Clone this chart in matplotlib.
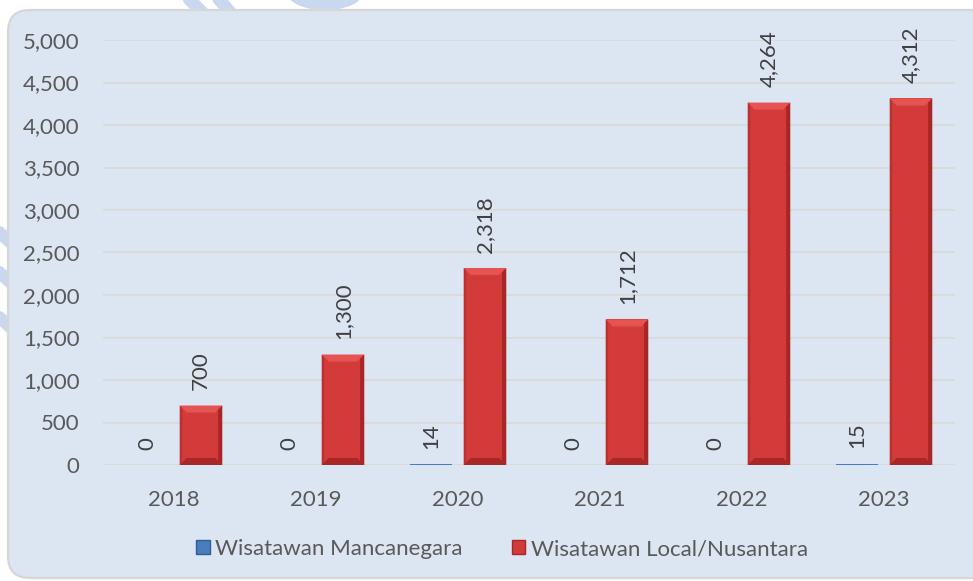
import numpy as np
import matplotlib
matplotlib.use("Agg")
import matplotlib.pyplot as plt
from matplotlib.patches import FancyBboxPatch, Polygon, Patch, Ellipse
from matplotlib.lines import Line2D

years = ['2018', '2019', '2020', '2021', '2022', '2023']
mancanegara = [0, 0, 14, 0, 0, 15]
local_nusantara = [700, 1300, 2318, 1712, 4264, 4312]
series_names = ['Wisatawan Mancanegara', 'Wisatawan Local/Nusantara']
yticks = [0, 500, 1000, 1500, 2000, 2500, 3000, 3500, 4000, 4500, 5000]

plt.rcParams['font.family'] = ['Lato', 'DejaVu Sans']
TXT = '#595959'
FS = 16

W, H = 973, 581
fig = plt.figure(figsize=(W / 100, H / 100), dpi=100)
fig.patch.set_facecolor('white')

# faint watermark strokes behind the panel
wm = '#c9d8ef'
for (x0, y0, x1, y1) in [(185, -5, 230, 40), (215, -5, 255, 40), (-20, 215, 30, 260),
                         (-20, 255, 30, 300), (-20, 300, 30, 345)]:
    fig.add_artist(Line2D([x0 / 100, x1 / 100], [(H - y0) / 100, (H - y1) / 100],
                          transform=fig.dpi_scale_trans, color=wm, lw=9,
                          solid_capstyle='round', zorder=0))
fig.add_artist(Ellipse((325 / 100, (H + 8) / 100), 0.75, 0.35,
                       transform=fig.dpi_scale_trans, color=wm, zorder=0))

# rounded background panel
panel = FancyBboxPatch((8 / 100, 3 / 100), 10.2, (578 - 10) / 100,
                       boxstyle='round,pad=0,rounding_size=0.22',
                       transform=fig.dpi_scale_trans, facecolor='#dce6f2',
                       edgecolor='#d6d6d6', lw=1.6, zorder=1)
fig.add_artist(panel)

ax = fig.add_axes([103 / W, 1 - 465 / H, (955 - 103) / W, (465 - 40) / H])
ax.set_facecolor('none')
ax.set_zorder(2)
for s in ax.spines.values():
    s.set_visible(False)

x = np.arange(len(years))
width = 0.30
off = 0.19
ax.set_xlim(-0.5, len(years) - 0.5)
ax.set_ylim(0, 5000)
ax.set_yticks(yticks)
ax.set_yticklabels([f'{v:,}' for v in yticks])
ax.set_xticks(x)
ax.set_xticklabels(years)
ax.tick_params(axis='both', length=0, labelsize=FS, colors=TXT)
ax.tick_params(axis='y', pad=17)
ax.tick_params(axis='x', pad=18)
ax.yaxis.grid(True, color='#d8d8d8', lw=1.2)
ax.set_axisbelow(True)

bars_b = ax.bar(x - off, mancanegara, width, color='#4a7ebb', edgecolor='none', zorder=3)
bars_r = ax.bar(x + off, local_nusantara, width, color='#d33a3a', edgecolor='none', zorder=3)

# bevel decoration from bar geometry
fig.canvas.draw()
px_x = (ax.transData.transform((1, 0))[0] - ax.transData.transform((0, 0))[0])
px_y = (ax.transData.transform((0, 1000))[1] - ax.transData.transform((0, 0))[1]) / 1000
bev = 7
bx, by = bev / px_x, bev / px_y
for bars, cols in [(bars_r, ('#e55353', '#bf2f2f', '#a92626', '#a82828')),
                   (bars_b, ('#6f9bd3', '#3d6fae', '#2f5d99', '#2f5d99'))]:
    for b in bars:
        x0, w, h = b.get_x(), b.get_width(), b.get_height()
        if h < 2.2 * by:
            continue
        top = [(x0, h), (x0 + w, h), (x0 + w - bx, h - by), (x0 + bx, h - by)]
        left = [(x0, 0), (x0, h), (x0 + bx * 0.35, h - by * 0.35), (x0 + bx * 0.35, by * 0.35)]
        right = [(x0 + w, 0), (x0 + w, h), (x0 + w - bx * 0.6, h - by * 0.6), (x0 + w - bx * 0.6, by * 0.6)]
        bot = [(x0, 0), (x0 + w, 0), (x0 + w - bx, by), (x0 + bx, by)]
        for poly, c in zip([top, left, right, bot], cols):
            ax.add_patch(Polygon(poly, closed=True, facecolor=c, edgecolor='none', zorder=4))

# value labels
for xs, vals in [(x - off, mancanegara), (x + off, local_nusantara)]:
    for xi, v in zip(xs, vals):
        ax.annotate(f'{v:,}', (xi, v), xytext=(0, 11), textcoords='offset points',
                    rotation=90, ha='center', va='bottom', fontsize=FS, color='#404040',
                    zorder=5)

handles = [Patch(facecolor='#4a7ebb', edgecolor='#2f5d99'),
           Patch(facecolor='#d33a3a', edgecolor='#a82828')]
leg = fig.legend(handles, series_names, loc='center', bbox_to_anchor=(502 / W, 1 - 549 / H),
                 ncol=2, frameon=False, fontsize=FS, handlelength=0.6, handleheight=0.6,
                 handletextpad=0.25, columnspacing=2.2, labelcolor=TXT)
leg.set_zorder(5)

fig.savefig('out.png', dpi=100, facecolor='white')
